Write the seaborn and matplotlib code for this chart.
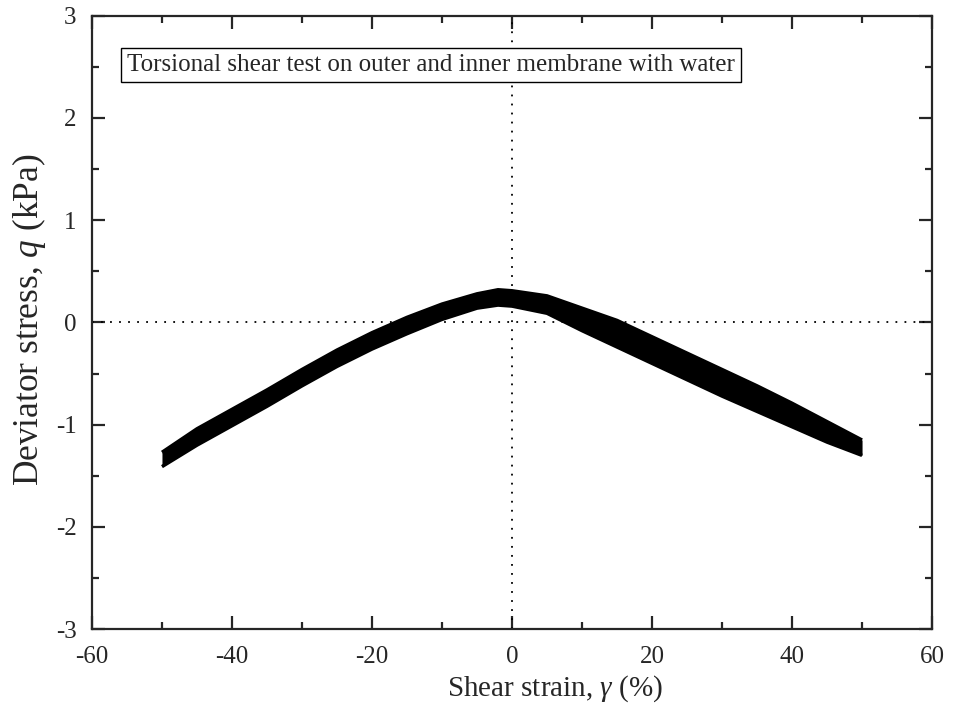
import numpy as np
import pandas as pd
import matplotlib
matplotlib.use("Agg")
import matplotlib.pyplot as plt
import seaborn as sns
from matplotlib.ticker import MultipleLocator

# Data: upper and lower edges of the band of overlapping cycles
strain = [-50, -45, -40, -35, -30, -25, -20, -15, -10, -5, -2, 0,
          5, 10, 15, 20, 25, 30, 35, 40, 45, 50]
q_top = [-1.27, -1.04, -0.85, -0.66, -0.46, -0.27, -0.10, 0.05, 0.18, 0.28, 0.32, 0.31,
         0.26, 0.14, 0.02, -0.14, -0.30, -0.46, -0.62, -0.79, -0.97, -1.15]
q_bottom = [-1.41, -1.20, -1.01, -0.82, -0.62, -0.43, -0.26, -0.11, 0.03, 0.14, 0.17, 0.16,
            0.09, -0.08, -0.24, -0.40, -0.56, -0.72, -0.87, -1.02, -1.17, -1.30]

xticks = [-60, -40, -20, 0, 20, 40, 60]
yticks = [-3, -2, -1, 0, 1, 2, 3]
box_text = "Torsional shear test on outer and inner membrane with water"

df = pd.concat([
    pd.DataFrame({"strain": strain, "q": q_top, "edge": "top"}),
    pd.DataFrame({"strain": strain, "q": q_bottom, "edge": "bottom"}),
])

sns.set_style("ticks")
plt.rcParams["font.family"] = ["Liberation Serif", "DejaVu Serif"]
plt.rcParams["axes.unicode_minus"] = False
plt.rcParams["mathtext.fontset"] = "custom"
plt.rcParams["mathtext.it"] = "Liberation Serif:italic"
plt.rcParams["mathtext.rm"] = "Liberation Serif"

fig, ax = plt.subplots(figsize=(9.54, 7.15), dpi=100)
fig.subplots_adjust(left=0.0964, right=0.977, top=0.978, bottom=0.120)

ax.axhline(0, color="black", lw=1.3, ls=(0, (1, 4)), zorder=1)
ax.axvline(0, color="black", lw=1.3, ls=(0, (1, 4)), zorder=1)

ax.fill_between(strain, q_bottom, q_top, color="black", lw=0, zorder=3)
sns.lineplot(data=df, x="strain", y="q", hue="edge", palette=["black", "black"],
             lw=2.5, sort=False, estimator=None, legend=False, ax=ax, zorder=3,
             solid_capstyle="butt", solid_joinstyle="round")

ax.set_xlim(-60, 60)
ax.set_ylim(-3, 3)
ax.set_xticks(xticks)
ax.set_yticks(yticks)
ax.xaxis.set_minor_locator(MultipleLocator(10))
ax.yaxis.set_minor_locator(MultipleLocator(0.5))
ax.tick_params(which="both", direction="in", top=True, right=True, width=1.6, labelsize=18)
ax.tick_params(axis="x", which="both", pad=12)
ax.tick_params(axis="y", which="both", pad=11)
ax.tick_params(which="major", length=9.5)
ax.tick_params(which="minor", length=5)
for s in ax.spines.values():
    s.set_linewidth(1.6)
    s.set_visible(True)

ax.set_xlabel(r"Shear strain, $\it{\gamma}$ (%)", fontsize=21)
ax.set_ylabel(r"Deviator stress, $\it{q}$ (kPa)", fontsize=25.5)
ax.xaxis.set_label_coords(0.551, -0.072)
ax.yaxis.set_label_coords(-0.052, 0.504)

ax.text(0.0417, 0.92, box_text, transform=ax.transAxes, fontsize=18, va="center", ha="left",
        bbox=dict(boxstyle="square,pad=0.25", fc="white", ec="black", lw=1.0), zorder=5)

fig.savefig("out.png", dpi=100)
